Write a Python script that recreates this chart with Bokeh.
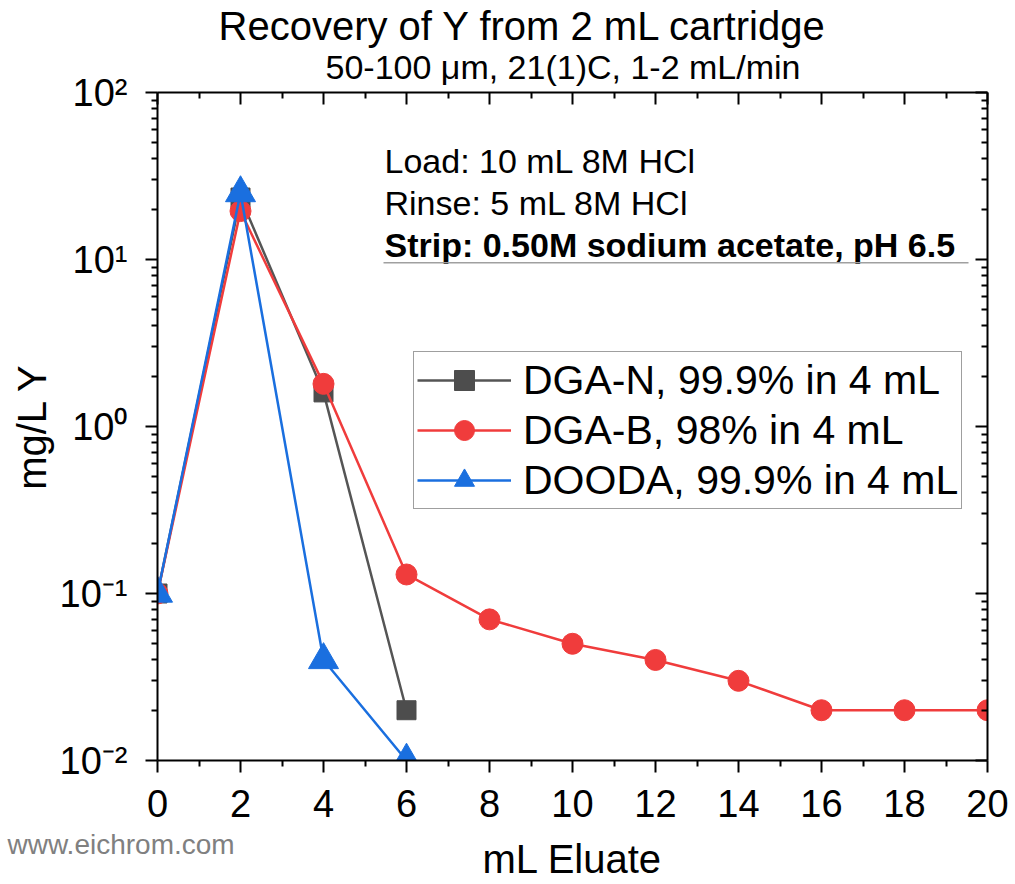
from bokeh.plotting import figure
from bokeh.models import (Range1d, LinearAxis, LogAxis, Label, Legend, LegendItem, Title,
                          CustomJSTickFormatter, FixedTicker, BoxAnnotation)
from bokeh.embed import file_html
from bokeh.resources import INLINE

# ---------------- data ----------------
x_dga_n = [0, 2, 4, 6]
y_dga_n = [0.1, 23.5, 1.6, 0.02]

x_dga_b = [0, 2, 4, 6, 8, 10, 12, 14, 16, 18, 20]
y_dga_b = [0.1, 19.5, 1.8, 0.13, 0.07, 0.05, 0.04, 0.03, 0.02, 0.02, 0.02]

x_dooda = [0, 2, 4, 6]
y_dooda = [0.1, 25, 0.04, 0.01]

labels = ["DGA-N, 99.9% in 4 mL", "DGA-B, 98% in 4 mL", "DOODA, 99.9% in 4 mL"]

x_ticks = [0, 2, 4, 6, 8, 10, 12, 14, 16, 18, 20]
x_minor = [1, 3, 5, 7, 9, 11, 13, 15, 17, 19]
y_ticks = [0.01, 0.1, 1, 10, 100]
y_minor = [m * d for d in [0.01, 0.1, 1, 10] for m in range(2, 10)]

title_text = "Recovery of Y from 2 mL cartridge"
subtitle_text = "50-100 \u03bcm, 21(1)C, 1-2 mL/min"
x_label = "mL Eluate"
y_label = "mg/L Y"
notes = ["Load: 10 mL 8M HCl", "Rinse: 5 mL 8M HCl", "Strip: 0.50M sodium acetate, pH 6.5"]
watermark = "www.eichrom.com"

FONT = "Liberation Sans"
GREY = "#4d4d4d"
RED = "#f03c3c"
BLUE = "#1a6fdf"

# frame: left 157, right 987, top 92, bottom 760
FL, FB = 157, 760

p = figure(width=1015, height=884,
           x_range=Range1d(0, 20), y_range=Range1d(0.01, 100),
           y_axis_type="log", output_backend="svg", toolbar_location=None,
           min_border_left=157, min_border_right=28,
           min_border_top=92, min_border_bottom=124)
p.xgrid.visible = False
p.ygrid.visible = False
p.outline_line_color = None
p.background_fill_color = "white"
p.border_fill_color = "white"

sup_code = """
const e = Math.round(Math.log10(tick));
const sup = {"0":"\u2070","1":"\u00b9","2":"\u00b2","3":"\u00b3","-":"\u207b"};
return "10" + String(e).split("").map(c => sup[c]).join("");
"""

xa = p.xaxis[0]
xa.ticker = FixedTicker(ticks=x_ticks, minor_ticks=x_minor)
ya = p.yaxis[0]
ya.ticker = FixedTicker(ticks=y_ticks, minor_ticks=y_minor)
ya.formatter = CustomJSTickFormatter(code=sup_code)
ya.axis_label = y_label

for ax in (xa, ya):
    ax.axis_line_width = 2
    ax.axis_line_color = "black"
    ax.major_tick_line_width = 2
    ax.minor_tick_line_width = 2
    ax.major_tick_out = 12
    ax.major_tick_in = 0
    ax.minor_tick_out = 6
    ax.minor_tick_in = 0
    ax.major_label_text_font = FONT
    ax.major_label_text_font_size = "38px"
    ax.major_label_text_color = "black"
    ax.axis_label_text_font = FONT
    ax.axis_label_text_font_size = "40px"
    ax.axis_label_text_font_style = "normal"
    ax.axis_label_text_color = "black"
xa.major_label_standoff = 17
ya.major_label_standoff = 18
ya.axis_label_standoff = 3

top = LinearAxis(ticker=FixedTicker(ticks=x_ticks, minor_ticks=x_minor),
                 formatter=CustomJSTickFormatter(code="return ''"))
right = LogAxis(ticker=FixedTicker(ticks=y_ticks, minor_ticks=y_minor),
                formatter=CustomJSTickFormatter(code="return ''"))
for ax in (top, right):
    ax.axis_line_width = 2
    ax.axis_line_color = "black"
    ax.major_tick_line_width = 2
    ax.minor_tick_line_width = 2
    ax.major_tick_in = 12
    ax.major_tick_out = 0
    ax.minor_tick_in = 6
    ax.minor_tick_out = 0
    ax.major_label_text_font_size = "1px"
    ax.major_label_standoff = 0
p.add_layout(top, "above")
p.add_layout(right, "right")

# titles (above)
sub = Title(text=subtitle_text, align="left", offset=325 - FL, standoff=13,
            text_font=FONT, text_font_size="34px", text_font_style="normal",
            text_color="black", text_line_height=1.0)
p.add_layout(sub, "above")
p.title.text = title_text
p.title.align = "left"
p.title.offset = 218 - FL
p.title.standoff = -16
p.title.text_font = FONT
p.title.text_font_size = "40px"
p.title.text_font_style = "normal"
p.title.text_color = "black"
p.title.text_line_height = 1.0

# below: watermark and x-axis label
wm = Title(text=watermark, align="left", offset=7 - FL, standoff=15,
           text_font=FONT, text_font_size="28px", text_font_style="normal",
           text_color="#808080", text_line_height=1.0)
p.add_layout(wm, "below")
xl = Title(text=x_label, align="center", standoff=-62, vertical_align="top",
           text_font=FONT, text_font_size="40px", text_font_style="normal",
           text_color="black", text_line_height=1.0)
p.add_layout(xl, "below")

# ---------------- series ----------------
l1 = p.line(x_dga_n, y_dga_n, line_color="#555555", line_width=2.5)
s1 = p.scatter(x_dga_n, y_dga_n, marker="square", size=19, fill_color=GREY, line_color=GREY)
l2 = p.line(x_dga_b, y_dga_b, line_color=RED, line_width=2.5)
s2 = p.scatter(x_dga_b, y_dga_b, marker="circle", size=21, fill_color=RED, line_color=RED)
l3 = p.line(x_dooda, y_dooda, line_color=BLUE, line_width=2.5)
s3 = p.scatter(x_dooda, y_dooda, marker="triangle", size=30, fill_color=BLUE, line_color=BLUE)

legend = Legend(items=[LegendItem(label=labels[0], renderers=[l1, s1]),
                       LegendItem(label=labels[1], renderers=[l2, s2]),
                       LegendItem(label=labels[2], renderers=[l3, s3])],
                location=(413 - FL, FB - 509))
legend.label_text_font = FONT
legend.label_text_font_size = "41px"
legend.label_text_color = "black"
legend.glyph_width = 94
legend.glyph_height = 50
legend.label_height = 50
legend.spacing = 0
legend.padding = 3
legend.margin = 0
legend.label_standoff = 12
legend.border_line_color = "#404040"
legend.border_line_width = 1
legend.background_fill_color = "white"
legend.background_fill_alpha = 1
p.add_layout(legend)

# ---------------- notes ----------------
def add_note(text, px, py, bold=False):
    p.add_layout(Label(x=px - FL, y=FB - py, x_units="screen", y_units="screen",
                       text=text, text_font=FONT, text_font_size="34px",
                       text_align="left", text_baseline="alphabetic",
                       text_font_style="bold" if bold else "normal",
                       text_color="black"))

add_note(notes[0], 384, 173 - 13)
add_note(notes[1], 384, 215 - 13)
add_note(notes[2], 384, 257 - 13, bold=True)

p.add_layout(BoxAnnotation(left=383 - FL, right=968 - FL, bottom=FB - 263, top=FB - 261.5,
                           left_units="screen", right_units="screen",
                           top_units="screen", bottom_units="screen",
                           fill_color="#a0a0a0", fill_alpha=1, line_color=None))

with open("out.html", "w", encoding="utf-8") as f:
    f.write(file_html(p, INLINE))
